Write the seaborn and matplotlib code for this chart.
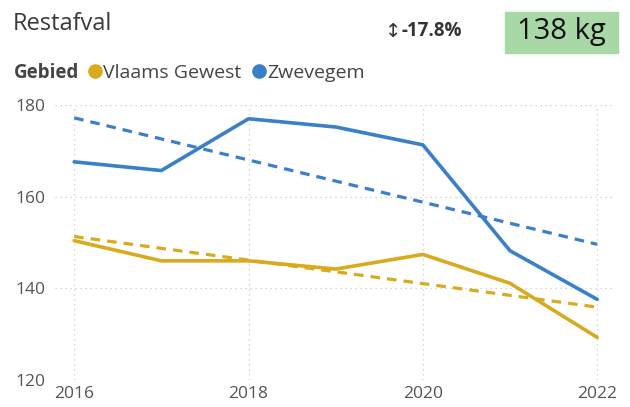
import seaborn as sns
import matplotlib.pyplot as plt
import pandas as pd
from matplotlib.lines import Line2D
from matplotlib.patches import Rectangle

years = [2016, 2017, 2018, 2019, 2020, 2021, 2022]
vlaams_gewest = [150.4, 146.0, 146.0, 144.2, 147.4, 141.1, 129.3]
zwevegem = [167.6, 165.7, 177.0, 175.2, 171.3, 148.2, 137.6]

trend_years = [2016, 2022]
trend_vlaams = [151.3, 135.9]
trend_zwevegem = [177.2, 149.6]

series_names = ["Vlaams Gewest", "Zwevegem"]
colors = {"Vlaams Gewest": "#d8aa1e", "Zwevegem": "#3b7fc8"}

y_ticks = [120, 140, 160, 180]
x_ticks = [2016, 2018, 2020, 2022]

df = pd.DataFrame({
    "jaar": years * 2,
    "kg": vlaams_gewest + zwevegem,
    "Gebied": ["Vlaams Gewest"] * len(years) + ["Zwevegem"] * len(years),
})
df_trend = pd.DataFrame({
    "jaar": trend_years * 2,
    "kg": trend_vlaams + trend_zwevegem,
    "Gebied": ["Vlaams Gewest"] * 2 + ["Zwevegem"] * 2,
})

sns.set_style("white")
plt.rcParams["font.family"] = ["Open Sans", "DejaVu Sans"]

W, H = 630, 407
fig = plt.figure(figsize=(W / 100, H / 100), dpi=100)
ax = fig.add_axes([55 / W, (H - 380) / H, (612 - 55) / W, (380 - 105) / H])

sns.lineplot(data=df, x="jaar", y="kg", hue="Gebied", palette=colors,
             linewidth=2.6, legend=False, ax=ax)
sns.lineplot(data=df_trend, x="jaar", y="kg", hue="Gebied", palette=colors,
             linewidth=2.3, linestyle=(0, (3, 2.2)), legend=False, ax=ax)

ax.set_xlim(2015.78, 2022.17)
ax.set_ylim(120, 180)
ax.set_xticks(x_ticks)
ax.set_yticks(y_ticks)
ax.set_xticklabels([str(x) for x in x_ticks])
ax.set_xlabel("")
ax.set_ylabel("")
ax.grid(True, color="#c8c8c8", linestyle=(0, (1, 3)), linewidth=0.9)
for s in ax.spines.values():
    s.set_visible(False)
ax.tick_params(axis="both", length=0, labelsize=12.5, colors="#555555")
ax.tick_params(axis="x", pad=4)
ax.tick_params(axis="y", pad=7)
for line in ax.lines:
    line.set_clip_on(False)

# header
fig.text(13 / W, 1 - 24 / H, "Restafval", fontsize=17, color="#3a3a3a",
         va="center", ha="left")
fig.text(385 / W, 1 - 31 / H, "↕", fontsize=14, color="#333333",
         va="center", ha="left", family=["DejaVu Sans"])
fig.text(402 / W, 1 - 31 / H, "-17.8%", fontsize=13.5, color="#333333",
         fontweight="bold", va="center", ha="left")
fig.patches.append(Rectangle((505 / W, 1 - 53 / H), 113 / W, 41 / H,
                             transform=fig.transFigure, color="#a8d8a6",
                             zorder=0))
fig.text(561 / W, 1 - 31 / H, "138 kg", fontsize=21, color="#111111",
         va="center", ha="center")

# legend
fig.text(14 / W, 1 - 73 / H, "Gebied", fontsize=13.5, color="#444444",
         fontweight="bold", va="center", ha="left")
handles = [Line2D([], [], marker="o", linestyle="", markersize=9.5,
                  color=colors[n]) for n in series_names]
fig.legend(handles, series_names, ncol=2, frameon=False, loc="center left",
           bbox_to_anchor=(89 / W, 1 - 73 / H), handlelength=0.6,
           handletextpad=0.12, columnspacing=0.6, fontsize=14,
           labelcolor="#444444", borderaxespad=0, borderpad=0)

fig.savefig("out.png", dpi=100)
